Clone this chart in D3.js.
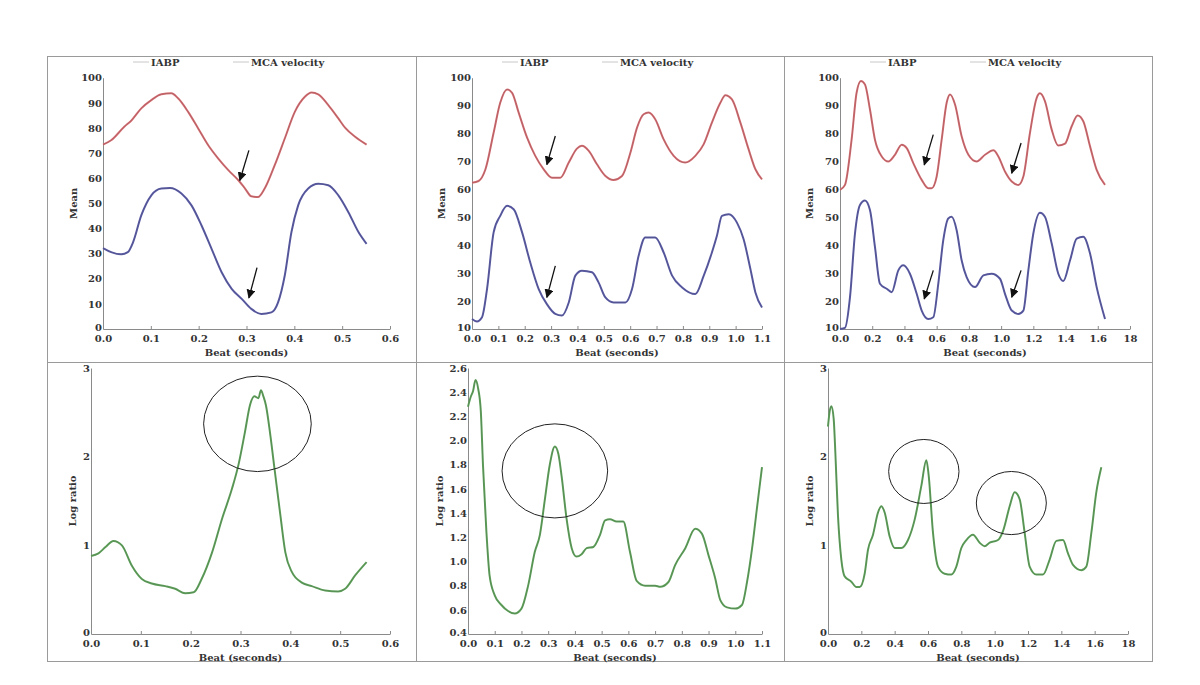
<!DOCTYPE html>
<html><head><meta charset="utf-8">
<script src="https://cdn.jsdelivr.net/npm/d3@7"></script>
<style>
body{margin:0;background:#fff}
text{font-family:"DejaVu Serif",serif;font-weight:bold;fill:#333}
</style>
</head><body><svg id="c" width="1200" height="685"></svg>
<script>
// ---------- DATA ----------
const legendNames = ["IABP", "MCA velocity"];
const xTitle = "Beat (seconds)";
const yTitleTop = "Mean";
const yTitleBottom = "Log ratio";

// panel 1 (0.55 s beat)
const p1Time_IABP = [0,0.017,0.045,0.059,0.080,0.101,0.122,0.143,0.157,0.178,0.199,0.220,0.241,0.262,0.283,0.297,0.310,0.324,0.338,0.359,0.380,0.401,0.422,0.436,0.450,0.471,0.492,0.506,0.527,0.551];
const p1IABP = [73.4,75.1,80.6,82.9,87.8,91.1,93.4,93.8,91.8,86.4,79.8,73.1,67.8,63.2,59.2,55.9,52.8,52.5,55.9,65.2,75.8,86.4,92.4,94.1,93.4,89.1,83.8,80.1,76.5,73.4];
const p1Time_MCA = [0,0.017,0.038,0.052,0.063,0.080,0.101,0.122,0.140,0.164,0.185,0.206,0.227,0.248,0.269,0.290,0.310,0.331,0.352,0.366,0.380,0.394,0.408,0.429,0.450,0.471,0.492,0.513,0.534,0.551];
const p1MCA = [32.2,30.6,29.7,30.6,34.6,45.2,53.2,55.9,56.1,53.9,49.2,41.2,31.9,22.6,16.0,12.0,8.0,6.0,6.6,10.6,21.3,38.6,49.2,55.9,57.8,57.2,53.2,46.5,38.6,33.9];
const p1Time_Log = [0,0.015,0.029,0.045,0.062,0.082,0.102,0.122,0.149,0.169,0.189,0.206,0.222,0.243,0.263,0.283,0.296,0.309,0.319,0.328,0.336,0.341,0.346,0.351,0.359,0.369,0.380,0.390,0.403,0.423,0.443,0.470,0.496,0.510,0.530,0.553];
const p1Log = [0.88,0.91,0.98,1.05,1.00,0.77,0.62,0.57,0.54,0.51,0.46,0.47,0.62,0.92,1.30,1.64,1.91,2.28,2.58,2.68,2.66,2.75,2.68,2.58,2.28,1.83,1.34,0.92,0.70,0.58,0.54,0.49,0.48,0.51,0.66,0.81];

// panel 2 (1.1 s)
const p2Time_IABP = [0,0.025,0.051,0.082,0.107,0.133,0.152,0.177,0.209,0.240,0.272,0.303,0.335,0.367,0.398,0.417,0.443,0.474,0.506,0.537,0.569,0.601,0.626,0.651,0.670,0.695,0.727,0.765,0.809,0.847,0.879,0.910,0.942,0.961,0.986,1.018,1.049,1.075,1.100];
const p2IABP = [62.4,63.0,67.2,80.3,91.0,95.8,94.6,87.5,78.5,72.0,67.2,64.2,64.2,69.6,74.6,75.6,73.8,69.0,64.8,63.4,64.8,73.2,82.1,86.9,87.5,85.1,77.9,72.0,69.6,72.0,76.2,83.9,91.0,93.7,92.2,83.9,74.4,67.2,63.6];
const p2Time_MCA = [0,0.019,0.038,0.057,0.082,0.107,0.133,0.158,0.190,0.221,0.253,0.284,0.316,0.341,0.367,0.392,0.417,0.455,0.480,0.506,0.537,0.582,0.607,0.632,0.657,0.695,0.727,0.759,0.797,0.847,0.879,0.910,0.929,0.948,0.974,1.005,1.030,1.056,1.075,1.100];
const p2MCA = [13.6,12.7,14.2,24.3,44.6,50.5,54.1,52.9,44.6,33.8,24.3,18.9,15.4,14.8,19.5,29.1,30.9,30.3,26.7,21.3,19.5,19.5,24.3,36.2,42.8,42.8,37.4,29.1,24.9,22.5,29.1,37.4,43.4,50.5,51.1,48.1,42.2,31.5,23.1,17.7];
const p2Time_Log = [0,0.010,0.019,0.028,0.038,0.048,0.056,0.069,0.081,0.100,0.125,0.150,0.175,0.200,0.225,0.250,0.269,0.288,0.306,0.325,0.338,0.350,0.369,0.388,0.406,0.425,0.444,0.469,0.494,0.513,0.531,0.556,0.581,0.606,0.631,0.663,0.700,0.719,0.750,0.775,0.813,0.850,0.875,0.900,0.925,0.944,0.969,1.000,1.025,1.044,1.063,1.081,1.100];
const p2Log = [2.28,2.36,2.41,2.50,2.43,2.24,1.80,1.24,0.88,0.72,0.64,0.59,0.57,0.61,0.80,1.08,1.22,1.52,1.80,1.95,1.89,1.71,1.35,1.11,1.04,1.06,1.11,1.12,1.22,1.34,1.35,1.33,1.33,1.08,0.84,0.80,0.80,0.79,0.83,0.97,1.11,1.27,1.23,1.05,0.86,0.68,0.62,0.61,0.64,0.83,1.11,1.44,1.78];

// panel 3 (1.65 s)
const p3Time_IABP = [0,0.031,0.072,0.103,0.130,0.155,0.186,0.217,0.259,0.300,0.341,0.383,0.414,0.455,0.507,0.548,0.569,0.600,0.631,0.662,0.683,0.714,0.755,0.797,0.848,0.900,0.952,0.983,1.024,1.066,1.107,1.138,1.179,1.221,1.241,1.272,1.314,1.355,1.397,1.438,1.475,1.510,1.552,1.593,1.645];
const p3IABP = [59.8,61.6,77.8,94.6,98.8,97.6,88.6,77.8,71.8,70.0,72.4,76.0,74.8,69.4,63.4,60.4,60.4,64.6,77.8,91.0,94.0,90.4,79.0,72.4,70.0,72.4,74.0,71.8,66.4,62.8,61.6,64.6,80.2,92.8,94.4,91.6,81.4,75.7,76.4,82.6,86.5,84.4,75.4,67.0,61.6];
const p3Time_MCA = [0,0.031,0.062,0.093,0.124,0.155,0.186,0.217,0.248,0.290,0.321,0.362,0.393,0.434,0.476,0.507,0.548,0.579,0.610,0.641,0.672,0.693,0.724,0.755,0.786,0.838,0.890,0.941,0.993,1.024,1.066,1.107,1.138,1.169,1.200,1.241,1.272,1.314,1.355,1.386,1.428,1.469,1.510,1.552,1.593,1.645];
const p3MCA = [10,10.4,21.4,44.2,54.4,56.0,52.6,39.4,26.2,24.4,23.2,31.0,32.8,29.8,22.6,16.6,13.6,14.2,26.2,41.8,49.6,50.2,45.4,34.6,28.6,25.0,29.2,29.8,28.0,22.6,16.6,15.4,16.6,31.0,44.2,51.6,50.2,40.6,29.8,27.2,34.6,42.4,43.0,37.0,25.0,13.6];
const p3Time_Log = [0,0.010,0.020,0.034,0.044,0.060,0.080,0.100,0.140,0.170,0.190,0.220,0.240,0.270,0.300,0.320,0.340,0.370,0.400,0.440,0.480,0.520,0.560,0.590,0.604,0.630,0.660,0.700,0.740,0.770,0.800,0.830,0.870,0.910,0.940,0.970,1.020,1.050,1.090,1.120,1.150,1.180,1.210,1.250,1.290,1.330,1.370,1.410,1.440,1.470,1.520,1.550,1.580,1.610,1.640];
const p3Log = [2.34,2.51,2.57,2.43,2.05,1.33,0.84,0.65,0.59,0.53,0.53,0.68,0.95,1.12,1.37,1.44,1.37,1.10,0.97,0.97,1.06,1.29,1.67,1.96,1.79,1.14,0.76,0.68,0.67,0.76,0.97,1.06,1.12,1.03,0.99,1.03,1.06,1.16,1.44,1.60,1.52,1.14,0.76,0.67,0.67,0.84,1.05,1.06,0.91,0.78,0.72,0.76,1.14,1.60,1.88];

// tick values / labels
const xTicks1 = [0,0.1,0.2,0.3,0.4,0.5,0.6];
const xLabels1 = ["0.0","0.1","0.2","0.3","0.4","0.5","0.6"];
const xTicks2 = [0,0.1,0.2,0.3,0.4,0.5,0.6,0.7,0.8,0.9,1.0,1.1];
const xLabels2 = ["0.0","0.1","0.2","0.3","0.4","0.5","0.6","0.7","0.8","0.9","1.0","1.1"];
const xTicks3 = [0,0.2,0.4,0.6,0.8,1.0,1.2,1.4,1.6,1.8];
const xLabels3 = ["0.0","0.2","0.4","0.6","0.8","1.0","1.2","1.4","1.6","18"];
const yTicksMean1 = [0,10,20,30,40,50,60,70,80,90,100];
const yTicksMean23 = [10,20,30,40,50,60,70,80,90,100];
const yTicksLog13 = [0,1,2,3];
const yTicksLog2 = [0.4,0.6,0.8,1.0,1.2,1.4,1.6,1.8,2.0,2.2,2.4,2.6];
const yLabelsLog2 = ["0.4","0.6","0.8","1.0","1.2","1.4","1.6","1.8","2.0","2.2","2.4","2.6"];

// annotations (data units): arrows [tailT, tailV, headT, headV], ellipses [cT, cV, rT, rV]
const p1Arrows = [[0.305,71.1,0.286,59.1],[0.322,24.4,0.305,12.4]];
const p2Arrows = [[0.316,79.1,0.284,68.9],[0.316,32.6,0.284,21.3]];
const p3Arrows = [[0.579,79.6,0.523,68.8],[1.124,76.6,1.066,65.8],[0.579,31.0,0.523,20.8],[1.124,31.0,1.066,21.4]];
const p1Circles = [[0.334,2.37,0.108,0.538]];
const p2Circles = [[0.325,1.749,0.1975,0.389]];
const p3Circles = [[0.575,1.833,0.211,0.361],[1.10,1.477,0.21,0.356]];

// ---------- DRAW ----------
const RED = "#d66d72", BLUE = "#5b5ca8", GREEN = "#60a45c";
const svg = d3.select("#c");

svg.append("defs").append("marker").attr("id","ah")
  .attr("viewBox","0 0 10 10").attr("refX",9).attr("refY",5)
  .attr("markerWidth",9).attr("markerHeight",9).attr("markerUnits","userSpaceOnUse")
  .attr("orient","auto")
  .append("path").attr("d","M0,0 L10,5 L0,10 Z").attr("fill","#111");

// frame
svg.append("rect").attr("x",47.5).attr("y",56.5).attr("width",1105).attr("height",605)
  .attr("fill","none").attr("stroke","#9a9a9a");
svg.append("line").attr("x1",416.5).attr("x2",416.5).attr("y1",56).attr("y2",662).attr("stroke","#9a9a9a");
svg.append("line").attr("x1",784.5).attr("x2",784.5).attr("y1",56).attr("y2",662).attr("stroke","#9a9a9a");
svg.append("line").attr("x1",47).attr("x2",1153).attr("y1",362.5).attr("y2",362.5).attr("stroke","#9a9a9a");

const panels = [
  {box:[103,390,77.7,329], xd:[0,0.6], yd:[0,100], xt:xTicks1, xl:xLabels1, yt:yTicksMean1, yl:yTicksMean1.map(String), yTitle:yTitleTop, ytx:73, legend:true,
   series:[[p1Time_IABP,p1IABP,RED],[p1Time_MCA,p1MCA,BLUE]], arrows:p1Arrows, circles:[]},
  {box:[472,762,77.7,329], xd:[0,1.1], yd:[10,100], xt:xTicks2, xl:xLabels2, yt:yTicksMean23, yl:yTicksMean23.map(String), yTitle:yTitleTop, ytx:441, legend:true,
   series:[[p2Time_IABP,p2IABP,RED],[p2Time_MCA,p2MCA,BLUE]], arrows:p2Arrows, circles:[]},
  {box:[840,1130,77.7,329], xd:[0,1.8], yd:[10,100], xt:xTicks3, xl:xLabels3, yt:yTicksMean23, yl:yTicksMean23.map(String), yTitle:yTitleTop, ytx:809, legend:true,
   series:[[p3Time_IABP,p3IABP,RED],[p3Time_MCA,p3MCA,BLUE]], arrows:p3Arrows, circles:[]},
  {box:[91,390,368,634], xd:[0,0.6], yd:[0,3], xt:xTicks1, xl:xLabels1, yt:yTicksLog13, yl:yTicksLog13.map(String), yTitle:yTitleBottom, ytx:72, legend:false,
   series:[[p1Time_Log,p1Log,GREEN]], arrows:[], circles:p1Circles},
  {box:[468,762,368,634], xd:[0,1.1], yd:[0.4,2.6], xt:xTicks2, xl:xLabels2, yt:yTicksLog2, yl:yLabelsLog2, yTitle:yTitleBottom, ytx:439, legend:false,
   series:[[p2Time_Log,p2Log,GREEN]], arrows:[], circles:p2Circles},
  {box:[828,1128,368,634], xd:[0,1.8], yd:[0,3], xt:xTicks3, xl:xLabels3, yt:yTicksLog13, yl:yTicksLog13.map(String), yTitle:yTitleBottom, ytx:809, legend:false,
   series:[[p3Time_Log,p3Log,GREEN]], arrows:[], circles:p3Circles}
];

panels.forEach(p => {
  const [x0,x1,y0,y1] = p.box;
  const x = d3.scaleLinear().domain(p.xd).range([x0,x1]);
  const y = d3.scaleLinear().domain(p.yd).range([y1,y0]);
  const g = svg.append("g");

  const xa = g.append("g").attr("transform",`translate(0,${y1})`)
    .call(d3.axisBottom(x).tickValues(p.xt).tickFormat((d,i)=>p.xl[i]).tickSizeOuter(0).tickSizeInner(-3).tickPadding(6));
  xa.select(".domain").attr("stroke","#8a8a8a");
  xa.selectAll(".tick line").attr("stroke","#8a8a8a");
  xa.selectAll("text").style("font-size","10px").attr("fill","#333");

  const ya = g.append("g").attr("transform",`translate(${x0},0)`)
    .call(d3.axisLeft(y).tickValues(p.yt).tickFormat((d,i)=>p.yl[i]).tickSizeOuter(0).tickSize(0).tickPadding(1));
  ya.select(".domain").attr("stroke","#8a8a8a");
  ya.selectAll("text").style("font-size","10px").attr("fill","#333");
  // bottom-most y label sits a touch higher so it clears the x labels
  ya.selectAll(".tick").filter((d,i)=>i===0).select("text").attr("dy","0.1em");

  g.append("text").attr("x",(x0+x1)/2).attr("y",y1+27).attr("text-anchor","middle")
    .style("font-size","10px").text(xTitle);
  g.append("text").attr("transform",`translate(${p.ytx},${(y0+y1)/2}) rotate(-90)`)
    .attr("text-anchor","middle").attr("dy","0.35em").style("font-size","10px").text(p.yTitle);

  if (p.legend) {
    const ly = 62;
    [[x0+30, legendNames[0]],[x0+130, legendNames[1]]].forEach(([lx,name]) => {
      g.append("line").attr("x1",lx).attr("x2",lx+16).attr("y1",ly).attr("y2",ly).attr("stroke","#c8c8c8").attr("stroke-width",1);
      g.append("text").attr("x",lx+18).attr("y",ly).attr("dy","0.35em").style("font-size","10px").text(name);
    });
  }

  p.series.forEach(([t,v,col]) => {
    const pts = t.map((tt,i)=>[tt,v[i]]);
    const line = d3.line().x(d=>x(d[0])).y(d=>y(d[1])).curve(d3.curveMonotoneX);
    g.append("path").attr("d",line(pts)).attr("fill","none").attr("stroke",col).attr("stroke-width",2);
    g.append("path").attr("d",line(pts)).attr("fill","none").attr("stroke","rgba(60,60,60,0.3)").attr("stroke-width",0.7);
  });

  p.arrows.forEach(a => {
    g.append("line").attr("x1",x(a[0])).attr("y1",y(a[1])).attr("x2",x(a[2])).attr("y2",y(a[3]))
      .attr("stroke","#111").attr("stroke-width",1.3).attr("marker-end","url(#ah)");
  });

  p.circles.forEach(c => {
    g.append("ellipse").attr("cx",x(c[0])).attr("cy",y(c[1]))
      .attr("rx",x(c[0]+c[2])-x(c[0])).attr("ry",y(c[1])-y(c[1]+c[3]))
      .attr("fill","none").attr("stroke","#222").attr("stroke-width",1);
  });
});
</script>
</body></html>
